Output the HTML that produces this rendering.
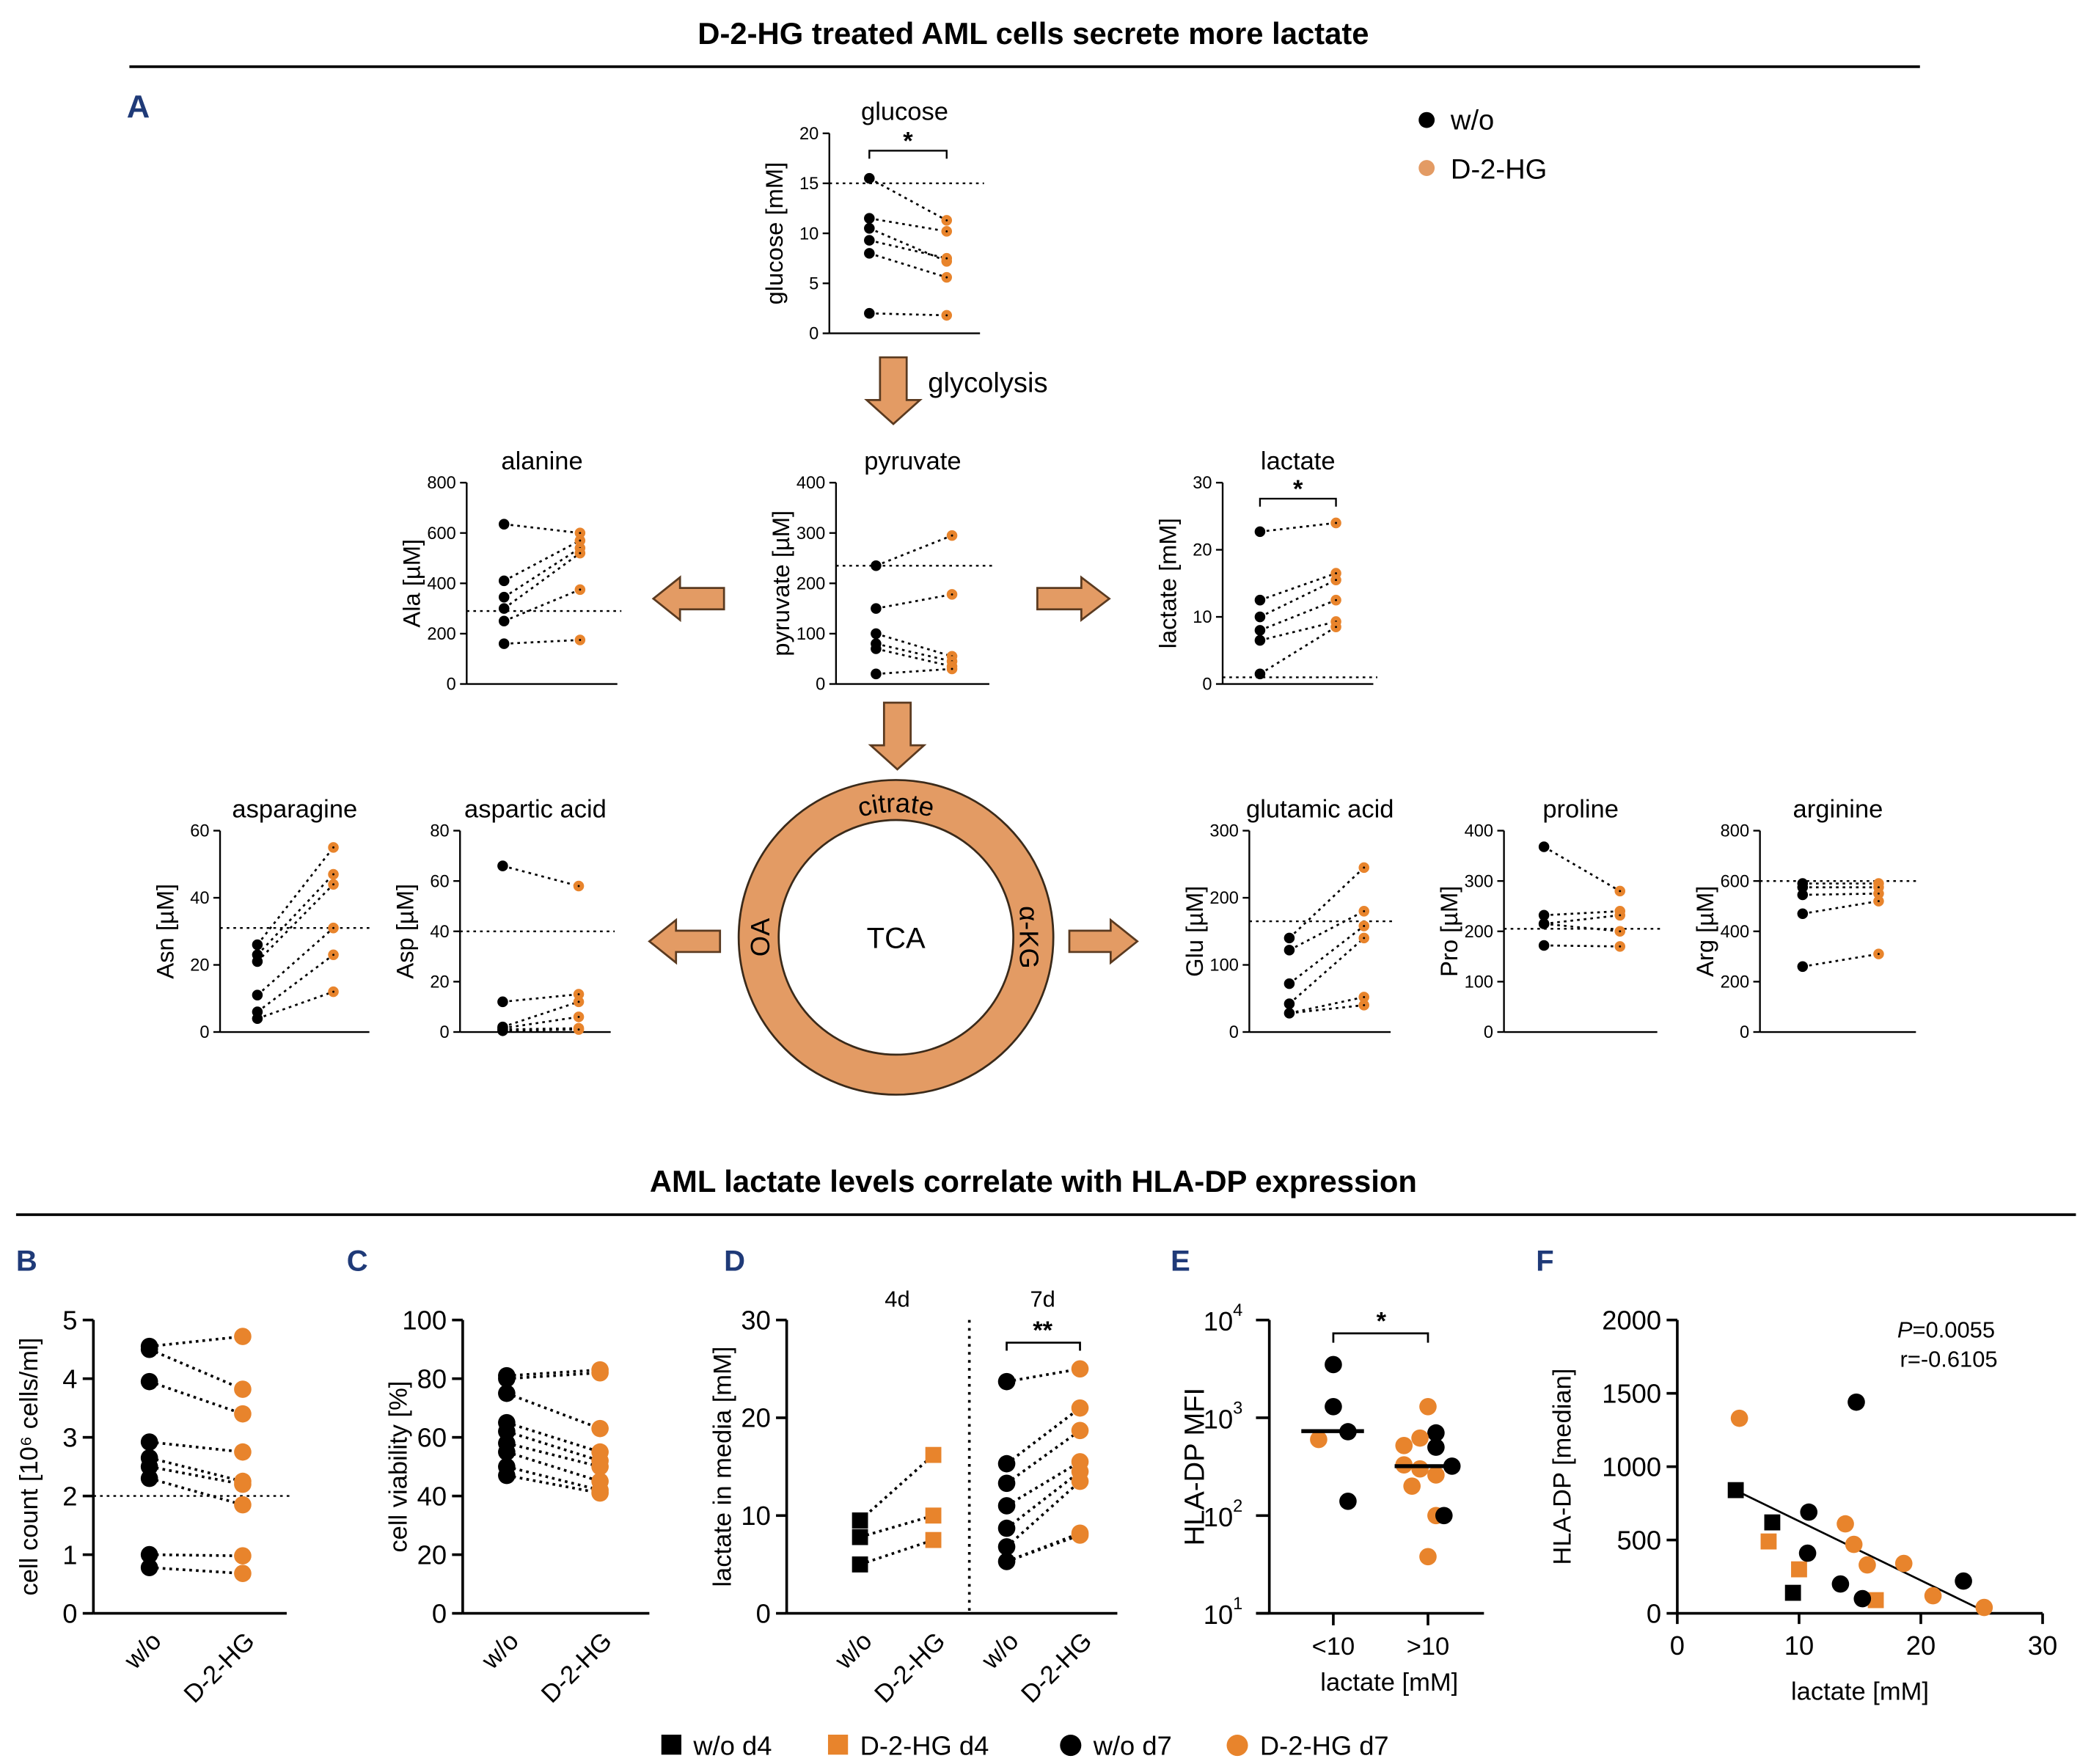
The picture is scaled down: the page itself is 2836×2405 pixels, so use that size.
<!DOCTYPE html>
<html><head><meta charset="utf-8"><style>html,body{margin:0;padding:0;background:#fff}svg{display:block}text{font-family:"Liberation Sans",sans-serif}</style></head>
<body>
<svg id="fig" xmlns="http://www.w3.org/2000/svg" width="2836" height="2405" viewBox="0 0 1560 1323">
<g>
<text x="775" y="33" text-anchor="middle" font-size="23" font-weight="bold">D-2-HG treated AML cells secrete more lactate</text>
<line x1="97" y1="50" x2="1440" y2="50" stroke="#000" stroke-width="2"/>
<text x="95" y="88" font-size="24" font-weight="bold" fill="#1f3a78">A</text>
<circle cx="1070" cy="90" r="6" fill="#000"/><text x="1088" y="97" font-size="21">w/o</text>
<circle cx="1070" cy="126" r="6" fill="#e39b64"/><text x="1088" y="134" font-size="21">D-2-HG</text>
</g>
<g>
<text x="775" y="894" text-anchor="middle" font-size="23" font-weight="bold">AML lactate levels correlate with HLA-DP expression</text>
<line x1="12" y1="911" x2="1557" y2="911" stroke="#000" stroke-width="2"/>
<text x="12" y="953" font-size="22" font-weight="bold" fill="#1f3a78">B</text>
<text x="260" y="953" font-size="22" font-weight="bold" fill="#1f3a78">C</text>
<text x="543" y="953" font-size="22" font-weight="bold" fill="#1f3a78">D</text>
<text x="878" y="953" font-size="22" font-weight="bold" fill="#1f3a78">E</text>
<text x="1152" y="953" font-size="22" font-weight="bold" fill="#1f3a78">F</text>
</g>
<g id="arrows" fill="#e39b64" stroke="#5a3a20" stroke-width="1.5">
<polygon points="660,268 680,268 680,300 690,300 670,318 650,300 660,300"/>
<polygon points="663,527 683,527 683,559 693,559 673,577 653,559 663,559"/>
<polygon points="543,441 510,441 510,433 490,449 510,465 510,457 543,457"/>
<polygon points="778,441 811,441 811,433 832,449 811,465 811,457 778,457"/>
<polygon points="540,698 507,698 507,690 487,706 507,722 507,714 540,714"/>
<polygon points="802,698 833,698 833,690 853,706 833,722 833,714 802,714"/>
</g>
<text x="696" y="294" font-size="21">glycolysis</text>
<g>
<circle cx="672" cy="703" r="103" fill="none" stroke="#e39b64" stroke-width="30"/>
<circle cx="672" cy="703" r="118" fill="none" stroke="#3a2a1a" stroke-width="1.5"/>
<circle cx="672" cy="703" r="88" fill="none" stroke="#3a2a1a" stroke-width="1.5"/>
<text x="672" y="711" text-anchor="middle" font-size="22">TCA</text>
<path id="arcTop" d="M 578 703 A 94 94 0 0 1 766 703" fill="none"/>
<text font-size="20"><textPath href="#arcTop" startOffset="50%" text-anchor="middle">citrate</textPath></text>
<text x="0" y="0" font-size="20" text-anchor="middle" transform="translate(577,703) rotate(-90)">OA</text>
<text x="0" y="0" font-size="20" text-anchor="middle" transform="translate(765,703) rotate(90)">α-KG</text>
</g>
<g id="plots"></g>
<g>
<rect x="496" y="1301" width="15" height="15" fill="#000"/><text x="520" y="1316" font-size="20">w/o d4</text>
<rect x="621" y="1301" width="15" height="15" fill="#e8842c"/><text x="645" y="1316" font-size="20">D-2-HG d4</text>
<circle cx="803" cy="1309" r="8" fill="#000"/><text x="820" y="1316" font-size="20">w/o d7</text>
<circle cx="928" cy="1309" r="8" fill="#e8842c"/><text x="945" y="1316" font-size="20">D-2-HG d7</text>
</g>
</svg>
<script>
// ---- data ----
const glucoseWo=[15.5,11.5,10.5,9.3,8,2], glucoseD=[11.3,10.2,7.2,7.5,5.6,1.8];
const alanineWo=[635,410,345,300,250,160], alanineD=[600,570,540,520,375,175];
const pyruvateWo=[235,150,100,80,70,20], pyruvateD=[295,178,55,45,35,30];
const lactateWo=[22.7,12.5,10,8,6.5,1.5], lactateD=[24,16.5,15.5,12.5,9.3,8.5];
const asnWo=[26,23,21,11,6,4], asnD=[55,47,44,31,23,12];
const aspWo=[66,12,2,1.5,1,0.5], aspD=[58,15,12,6,1.5,1];
const gluWo=[140,122,72,42,28], gluD=[245,180,158,140,52,40];
const proWo=[368,232,215,215,172], proD=[280,240,232,200,170];
const argWo=[590,575,545,470,260], argD=[590,575,550,520,310];
const cellWo=[4.55,4.5,3.95,2.92,2.65,2.5,2.3,1.0,0.78], cellD=[4.72,3.82,3.4,2.75,2.25,2.2,1.85,0.98,0.68];
const viaWo=[81,80,75,65,62,58,55,50,47], viaD=[83,82,63,55,52,50,45,42,41];
const lac4Wo=[9.5,7.8,5], lac4D=[16.2,10,7.5];
const lac7Wo=[23.7,15.3,13.3,11,8.7,6.8,5.3], lac7D=[25,21,18.7,15.5,14.5,13.5,8.2,8];
const eLowVals=[3500,1300,720,600,140], eLowCol=["k","k","k","o","k"];
const eHighVals=[1300,700,620,520,500,330,320,300,260,200,100,100,38], eHighCol=["o","k","o","o","k","o","k","o","o","o","o","k","o"];
const eMedians=[730,320];
const fX=[4.8,7.8,9.5,7.5,10,16.3,14.7,10.8,10.7,13.4,15.2,23.5,5.1,13.8,14.5,15.6,18.6,21,25.2];
const fY=[840,620,140,490,300,90,1440,690,410,200,100,220,1330,610,470,330,340,120,40];
const fShape=["sk","sk","sk","so","so","so","ck","ck","ck","ck","ck","ck","co","co","co","co","co","co","co"];
// ---- drawing ----
const NS="http://www.w3.org/2000/svg";
const root=document.getElementById('plots');
const OR="#e8842c";
function el(tag,attrs,parent,txt){const e=document.createElementNS(NS,tag);for(const k in attrs)e.setAttribute(k,attrs[k]);if(txt!==undefined)e.textContent=txt;(parent||root).appendChild(e);return e;}
function panel(p){
  const g=el('g',{});
  
  
  const Y=v=>p.yb-(v/p.ymax)*(p.yb-p.yt);
  el('line',{x1:p.x0,y1:p.yt,x2:p.x0,y2:p.yb,stroke:'#000','stroke-width':p.big?2:1.3},g);
  el('line',{x1:p.x0,y1:p.yb,x2:p.xe,y2:p.yb,stroke:'#000','stroke-width':p.big?2:1.3},g);
  p.ticks.forEach(t=>{const y=Y(t);el('line',{x1:p.x0-(p.big?8:5),y1:y,x2:p.x0,y2:y,stroke:'#000','stroke-width':p.big?2:1.3},g);
    const tl=el('text',{x:p.x0-(p.big?12:8),y:y+(p.big?7:4.5),'text-anchor':'end','font-size':p.big?20:13},g,String(t));
    });
  const cx=p.x0-(p.big?42:35), cy=(p.yt+p.yb)/2;
  const yl=el('text',{x:0,y:0,'text-anchor':'middle','font-size':p.big?19:18,transform:`translate(${cx},${cy}) rotate(-90)`},g,p.ylab);
  
  if(p.title){const t=el('text',{x:(p.x0+p.xe)/2,y:p.yt-10,'text-anchor':'middle','font-size':19},g,p.title);
    }
  if(p.ref!==undefined)el('line',{x1:p.x0,y1:Y(p.ref),x2:p.xe+3,y2:Y(p.ref),stroke:'#000','stroke-width':1.3,'stroke-dasharray':'2,3'},g);
  const n=Math.max(p.wo.length,p.d.length);
  for(let i=0;i<n;i++){const a=p.wo[Math.min(i,p.wo.length-1)],b=p.d[Math.min(i,p.d.length-1)];
    el('line',{x1:p.xw,y1:Y(a),x2:p.xd,y2:Y(b),stroke:'#000','stroke-width':p.big?2:1.5,'stroke-dasharray':'2,3'},g);}
  const r=p.big?6.5:4;
  p.wo.forEach(v=>{const c=el('circle',{cx:p.xw,cy:Y(v),r:r,fill:'#000'},g);});
  p.d.forEach(v=>{const c=el('circle',{cx:p.xd,cy:Y(v),r:r,fill:OR},g);
    if(!p.big)el('circle',{cx:p.xd,cy:Y(v),r:0.8,fill:'#000'},g);});
  if(p.sig){el('path',{d:`M${p.xw},${p.sig+6}V${p.sig}H${p.xd}V${p.sig+6}`,fill:'none',stroke:'#000','stroke-width':1.3},g);
    el('text',{x:(p.xw+p.xd)/2,y:p.sig-1,'text-anchor':'middle','font-size':19,'font-weight':'bold'},g,'*');}
  if(p.xlabs){[p.xw,p.xd].forEach((x,i)=>{const t=el('text',{x:0,y:0,'text-anchor':'end','font-size':19,transform:`translate(${x+10},${p.yb+22}) rotate(-45)`},g,p.xlabs[i]);
    });}
  return {g,Y};
}
panel({name:'glucose-plot',x0:622,yt:100,yb:250,xe:735,ymax:20,ticks:[0,5,10,15,20],wo:glucoseWo,d:glucoseD,xw:652,xd:710,ref:15,ylab:'glucose [mM]',title:'glucose',sig:113});
panel({name:'alanine-plot',x0:350,yt:362,yb:513,xe:463,ymax:800,ticks:[0,200,400,600,800],wo:alanineWo,d:alanineD,xw:378,xd:435,ref:290,ylab:'Ala [µM]',title:'alanine'});
panel({name:'pyruvate-plot',x0:627,yt:362,yb:513,xe:742,ymax:400,ticks:[0,100,200,300,400],wo:pyruvateWo,d:pyruvateD,xw:657,xd:714,ref:235,ylab:'pyruvate [µM]',title:'pyruvate'});
panel({name:'lactate-plot',x0:917,yt:362,yb:513,xe:1030,ymax:30,ticks:[0,10,20,30],wo:lactateWo,d:lactateD,xw:945,xd:1002,ref:1,ylab:'lactate [mM]',title:'lactate',sig:374});
panel({name:'asparagine-plot',x0:165,yt:623,yb:774,xe:277,ymax:60,ticks:[0,20,40,60],wo:asnWo,d:asnD,xw:193,xd:250,ref:31,ylab:'Asn [µM]',title:'asparagine'});
panel({name:'aspartic-plot',x0:345,yt:623,yb:774,xe:458,ymax:80,ticks:[0,20,40,60,80],wo:aspWo,d:aspD,xw:377,xd:434,ref:40,ylab:'Asp [µM]',title:'aspartic acid'});
panel({name:'glutamic-plot',x0:937,yt:623,yb:774,xe:1043,ymax:300,ticks:[0,100,200,300],wo:gluWo,d:gluD,xw:967,xd:1023,ref:165,ylab:'Glu [µM]',title:'glutamic acid'});
panel({name:'proline-plot',x0:1128,yt:623,yb:774,xe:1243,ymax:400,ticks:[0,100,200,300,400],wo:proWo,d:proD,xw:1158,xd:1215,ref:205,ylab:'Pro [µM]',title:'proline'});
panel({name:'arginine-plot',x0:1320,yt:623,yb:774,xe:1437,ymax:800,ticks:[0,200,400,600,800],wo:argWo,d:argD,xw:1352,xd:1409,ref:600,ylab:'Arg [µM]',title:'arginine'});
panel({name:'cell-count-plot',big:1,x0:70,yt:990,yb:1210,xe:215,ymax:5,ticks:[0,1,2,3,4,5],wo:cellWo,d:cellD,xw:112,xd:182,ref:2,ylab:'cell count [10⁶ cells/ml]',xlabs:['w/o','D-2-HG']});
panel({name:'viability-plot',big:1,x0:347,yt:990,yb:1210,xe:487,ymax:100,ticks:[0,20,40,60,80,100],wo:viaWo,d:viaD,xw:380,xd:450,ylab:'cell viability [%]',xlabs:['w/o','D-2-HG']});
// Panel D
(function(){
  const p=panel({name:'lactate-media-plot',big:1,x0:590,yt:990,yb:1210,xe:838,ymax:30,ticks:[0,10,20,30],wo:[],d:[],xw:645,xd:700,ylab:'lactate in media [mM]',xlabs:['w/o','D-2-HG']});
  const g=p.g,Y=p.Y;
  el('line',{x1:727,y1:990,x2:727,y2:1210,stroke:'#000','stroke-width':2,'stroke-dasharray':'2,4'},g);
  el('text',{x:673,y:980,'text-anchor':'middle','font-size':17},g,'4d');
  el('text',{x:782,y:980,'text-anchor':'middle','font-size':17},g,'7d');
  [755,810].forEach((x,i)=>{el('text',{x:0,y:0,'text-anchor':'end','font-size':19,transform:`translate(${x+10},1232) rotate(-45)`},g,['w/o','D-2-HG'][i]);});
  lac4Wo.forEach((v,i)=>el('line',{x1:645,y1:Y(v),x2:700,y2:Y(lac4D[i]),stroke:'#000','stroke-width':2,'stroke-dasharray':'2,3'},g));
  lac7D.forEach((v,i)=>el('line',{x1:755,y1:Y(lac7Wo[Math.min(i,lac7Wo.length-1)]),x2:810,y2:Y(v),stroke:'#000','stroke-width':2,'stroke-dasharray':'2,3'},g));
  lac4Wo.forEach(v=>{const r=el('rect',{x:639,y:Y(v)-6,width:12,height:12,fill:'#000'},g);});
  lac4D.forEach(v=>{const r=el('rect',{x:694,y:Y(v)-6,width:12,height:12,fill:OR},g);});
  lac7Wo.forEach(v=>{const c=el('circle',{cx:755,cy:Y(v),r:6.5,fill:'#000'},g);});
  lac7D.forEach(v=>{const c=el('circle',{cx:810,cy:Y(v),r:6.5,fill:OR},g);});
  el('path',{d:'M755,1013V1007H810V1013',fill:'none',stroke:'#000','stroke-width':1.5},g);
  el('text',{x:782,y:1004,'text-anchor':'middle','font-size':19,'font-weight':'bold'},g,'**');
})();
// Panel E
(function(){
  const g=el('g',{});
  
  
  const x0=952,yt=990,yb=1210;
  const Y=v=>yb-(Math.log10(v)-1)/3*(yb-yt);
  el('line',{x1:x0,y1:yt,x2:x0,y2:yb,stroke:'#000','stroke-width':2},g);
  el('line',{x1:x0-10,y1:yb,x2:1113,y2:yb,stroke:'#000','stroke-width':2},g);
  [1,2,3,4].forEach(e=>{const y=Y(Math.pow(10,e));el('line',{x1:x0-10,y1:y,x2:x0,y2:y,stroke:'#000','stroke-width':2},g);
    const t=el('text',{x:x0-20,y:y+8,'text-anchor':'end','font-size':20},g,'10');el('tspan',{dy:-11,'font-size':13},t,String(e));});
  el('text',{x:0,y:0,'text-anchor':'middle','font-size':21,transform:`translate(903,1100) rotate(-90)`},g,'HLA-DP MFI');
  [1000,1071].forEach((x,i)=>{el('line',{x1:x,y1:yb,x2:x,y2:yb+9,stroke:'#000','stroke-width':2},g);
    el('text',{x:x,y:yb+31,'text-anchor':'middle','font-size':19},g,['<10','>10'][i]);});
  el('text',{x:1042,y:1268,'text-anchor':'middle','font-size':19},g,'lactate [mM]');
  const jl=[0,0,11,-11,11];
  const lowJ=[0,0,11,-11,11];
  eLowVals.forEach((v,i)=>{const c=el('circle',{cx:1000+lowJ[i],cy:Y(v),r:6.5,fill:eLowCol[i]=='k'?'#000':OR},g);});
  const jh=[0,6,-6,-18,6,-18,18,-6,6,-12,6,12,0];
  eHighVals.forEach((v,i)=>{const c=el('circle',{cx:1071+jh[i],cy:Y(v),r:6.5,fill:eHighCol[i]=='k'?'#000':OR},g);});
  [976,1046].forEach((x,i)=>el('line',{x1:x,y1:Y(eMedians[i]),x2:x+47,y2:Y(eMedians[i]),stroke:'#000','stroke-width':3},g));
  el('path',{d:'M1000,1007V1000H1071V1007',fill:'none',stroke:'#000','stroke-width':1.5},g);
  el('text',{x:1036,y:997,'text-anchor':'middle','font-size':19,'font-weight':'bold'},g,'*');
})();
// Panel F
(function(){
  const g=el('g',{});
  
  
  const x0=1258,x1=1532,yt=990,yb=1210;
  const X=v=>x0+v/30*(x1-x0), Y=v=>yb-v/2000*(yb-yt);
  el('line',{x1:x0,y1:yt,x2:x0,y2:yb,stroke:'#000','stroke-width':2},g);
  el('line',{x1:x0,y1:yb,x2:x1,y2:yb,stroke:'#000','stroke-width':2},g);
  [0,500,1000,1500,2000].forEach(t=>{el('line',{x1:x0-8,y1:Y(t),x2:x0,y2:Y(t),stroke:'#000','stroke-width':2},g);
    el('text',{x:x0-12,y:Y(t)+7,'text-anchor':'end','font-size':20},g,String(t));});
  [0,10,20,30].forEach(t=>{el('line',{x1:X(t),y1:yb,x2:X(t),y2:yb+8,stroke:'#000','stroke-width':2},g);
    el('text',{x:X(t),y:yb+31,'text-anchor':'middle','font-size':20},g,String(t));});
  el('text',{x:0,y:0,'text-anchor':'middle','font-size':19,transform:`translate(1178,1100) rotate(-90)`},g,'HLA-DP [median]');
  el('text',{x:1395,y:1275,'text-anchor':'middle','font-size':19},g,'lactate [mM]');
  el('line',{x1:X(5),y1:Y(830),x2:X(25.2),y2:Y(15),stroke:'#000','stroke-width':1.5},g);
  fX.forEach((v,i)=>{const s=fShape[i],col=s[1]=='k'?'#000':OR;let m;
    if(s[0]=='s')m=el('rect',{x:X(v)-6,y:Y(fY[i])-6,width:12,height:12,fill:col},g);
    else m=el('circle',{cx:X(v),cy:Y(fY[i]),r:6.5,fill:col},g);
    });
  const t=el('text',{x:1423,y:1003,'font-size':17},g);el('tspan',{'font-style':'italic'},t,'P');el('tspan',{},t,'=0.0055');
  el('text',{x:1425,y:1025,'font-size':17},g,'r=-0.6105');
})();
</script>
</body></html>
